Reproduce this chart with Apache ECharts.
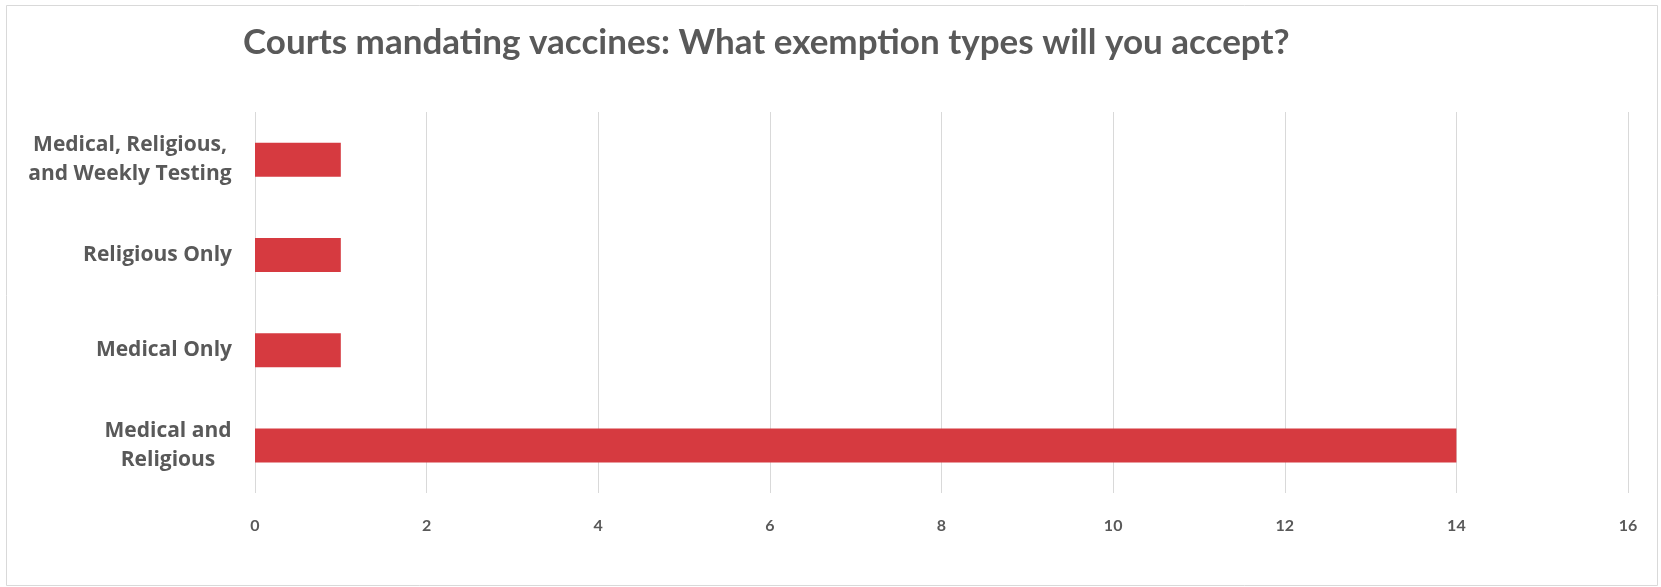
<!DOCTYPE html>
<html>
<head>
<meta charset="utf-8">
<title>Courts mandating vaccines</title>
<script src="https://cdn.jsdelivr.net/npm/echarts@6/dist/echarts.min.js"></script>
<style>
html,body{margin:0;padding:0;background:#fff;}
#chart{width:1661px;height:587px;}
</style>
</head>
<body>
<div id="chart"></div>
<script>
// data (bottom to top)
var categories=['Medical and\nReligious','Medical Only','Religious Only','Medical, Religious,\nand Weekly Testing'];
var counts=[14,1,1,1];
var xTicks={min:0,max:16,interval:2};

var labelFont='bold 21px "Open Sans"';
//multi-line labels: lines centred on each other, block right-aligned
var ctx=document.createElement('canvas').getContext('2d');
ctx.font=labelFont;
var rich={};
categories.forEach(function(c,i){
    var w=0;
    c.split('\n').forEach(function(l){
        w=Math.max(w,ctx.measureText(l).width);
    });
    rich['l'+i]={width:Math.ceil(w),align:'center',fontFamily:'Open Sans',fontWeight:'bold',fontSize:21,color:'#595959',lineHeight:29};
});

var chart=echarts.init(document.getElementById('chart'));
chart.setOption({
    backgroundColor:'#fff',
    animation:false,
    title:{
        text:'Courts mandating vaccines: What exemption types will you accept?',
        left:238,
        top:20,
        textStyle:{
            fontFamily:'Lato',
            fontWeight:'bold',
            fontSize:35,
            color:'#595959'
        }
    },
    graphic:[{
        type:'rect',
        shape:{x:6.5,y:5.5,width:1651,height:580},
        style:{fill:null,stroke:'#d9d9d9',lineWidth:1},
        silent:true
    }],
    grid:{left:255,right:33,top:112,bottom:94},
    xAxis:{
        type:'value',
        min:xTicks.min,
        max:xTicks.max,
        interval:xTicks.interval,
        axisLine:{show:false},
        axisTick:{show:false},
        splitLine:{lineStyle:{color:'#d9d9d9',width:1}},
        axisLabel:{
            margin:25,
            fontFamily:'Lato',
            fontWeight:'bold',
            fontSize:16,
            color:'#595959'
        }
    },
    yAxis:{
        type:'category',
        data:categories,
        axisLine:{show:false},
        axisTick:{show:false},
        axisLabel:{
            margin:23,
            align:'right',
            fontFamily:'Open Sans',
            fontWeight:'bold',
            fontSize:21,
            lineHeight:29,
            color:'#595959',
            rich:rich,
            formatter:function(v,i){
                if(v.indexOf('\n')<0){
                    return v;
                }
                return v.split('\n').map(function(l){
                    return '{l'+i+'|'+l+'}';
                }).join('\n');
            }
        }
    },
    series:[{
        type:'bar',
        data:counts,
        barWidth:34,
        itemStyle:{color:'#d63a40'}
    }]
});
</script>
</body>
</html>
